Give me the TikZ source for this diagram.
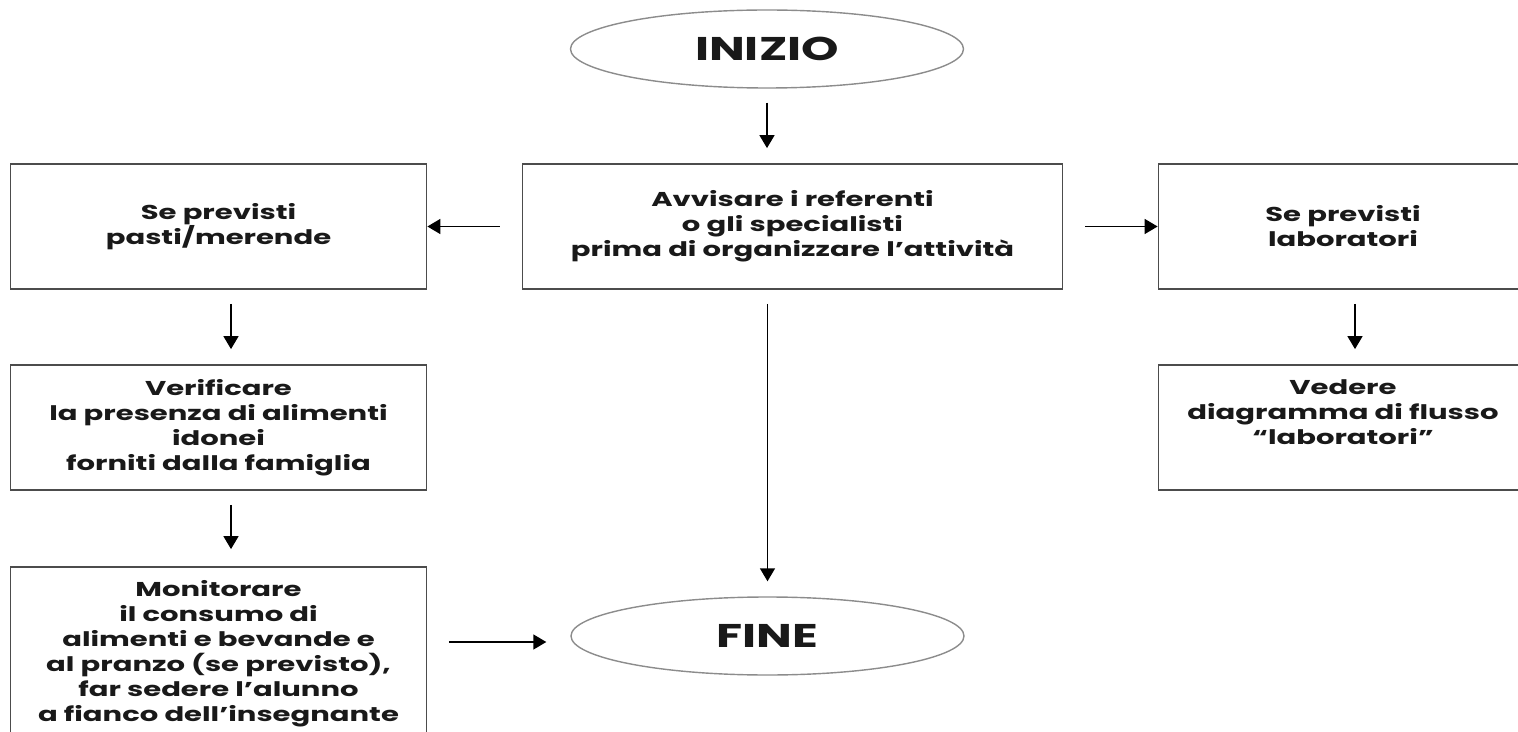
\documentclass[tikz,border=0pt]{standalone}
\usepackage{fontspec}
\setmainfont{Poppins}[FakeStretch=1.45]
\usetikzlibrary{shapes.geometric,arrows.meta}
\tikzset{
  flowbox/.style={draw=black!70, line width=1pt, rectangle, align=center, inner sep=0pt, minimum height=2.5cm, text=black!90, font=\bfseries\fontsize{11.4}{14.2}\selectfont},
  termine/.style={draw=black!45, line width=0.8pt, ellipse, inner sep=0pt, minimum width=7.86cm, minimum height=1.56cm, text=black!90, font=\bfseries\fontsize{18.7}{22}\selectfont},
  flow/.style={->, line width=0.85pt, shorten <=0.28cm, shorten >=0.3cm}
}
\begin{document}
\begin{tikzpicture}[>={Triangle[length=0.26cm,width=0.3cm]}]
			\useasboundingbox (0,0) rectangle (30.36,-14.64);
			% Inizio e fine
			\node[termine] (inizio) at (15.34,-0.98) {INIZIO};
			\node[termine] (fine) at (15.35,-12.72) {FINE};
			% Riga centrale
			\node[flowbox, minimum width=10.8cm] (avvisare) at (15.85,-4.53) {Avvisare i referenti\\o gli specialisti\\prima di organizzare l’attività};
			\node[flowbox, minimum width=8.32cm] (pasti) at (4.37,-4.53) {Se previsti\\pasti/merende};
			\node[flowbox, minimum width=7.38cm] (lab) at (26.86,-4.53) {Se previsti\\laboratori};
			% Colonna sinistra
			\node[flowbox, minimum width=8.32cm] (verificare) at (4.37,-8.55) {Verificare\\la presenza di alimenti\\idonei\\forniti dalla famiglia};
			\node[flowbox, minimum width=8.32cm, minimum height=3.66cm] (monitorare) at (4.37,-13.17) {Monitorare\\il consumo di\\alimenti e bevande e\\al pranzo (se previsto),\\far sedere l’alunno\\a fianco dell’insegnante\\[-0.2cm]};
			% Colonna destra
			\node[flowbox, minimum width=7.38cm] (vedere) at (26.86,-8.55) {Vedere\\diagramma di flusso\\“laboratori”\\[0.1cm]};
			% Frecce verticali
			\draw[flow] (inizio.south) -- (inizio.south |- avvisare.north);
			\draw[flow] (fine.north |- avvisare.south) -- (fine.north);
			\draw[flow] ([xshift=0.25cm]pasti.south) -- ([xshift=0.25cm]verificare.north);
			\draw[flow, shorten >=0.34cm] ([xshift=0.25cm]verificare.south) -- ([xshift=0.25cm]monitorare.north);
			\draw[flow] ([xshift=0.24cm]lab.south) -- ([xshift=0.24cm]vedere.north);
			% Frecce orizzontali
			\draw[flow, shorten <=0.44cm, shorten >=0pt] (avvisare.west) -- (pasti.east);
			\draw[flow, shorten <=0.44cm, shorten >=0pt] (avvisare.east) -- (lab.west);
			\coordinate (arrivo) at ([yshift=-0.12cm]fine.west);
			\draw[flow, shorten <=0.43cm, shorten >=0.48cm] (monitorare.east |- arrivo) -- (arrivo);
		\end{tikzpicture}
\end{document}
